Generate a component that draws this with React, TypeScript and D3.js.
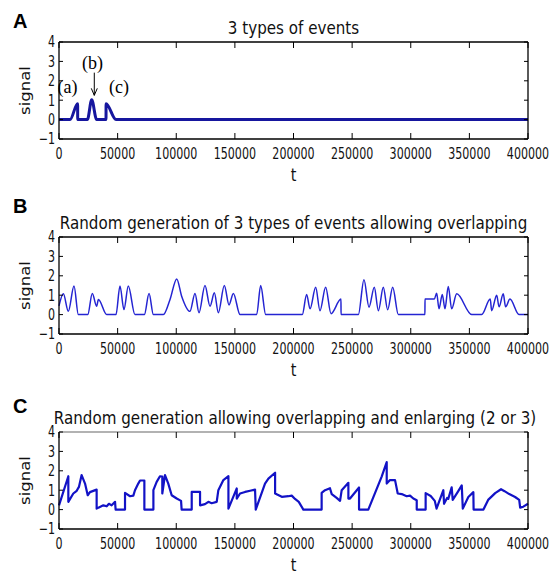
import React from 'react';
import * as d3 from 'd3';

const W = 552;
const H = 575;

const xTicks = [0, 50000, 100000, 150000, 200000, 250000, 300000, 350000, 400000];
const yTicks = [-1, 0, 1, 2, 3, 4];
const letters = ['A', 'B', 'C'];
const titles = [
  '3 types of events',
  'Random generation of 3 types of events allowing overlapping',
  'Random generation allowing overlapping and enlarging (2 or 3)',
];

// [t, signal]
const signalA: [number, number][] = [
  [0, 0], [9400, 0], [15900, 0.82], [15900, 0], [24200, 0], [27900, 1.02], [32100, 0],
  [40100, 0], [40100, 0.82], [48600, 0], [400000, 0],
];

const signalB: [number, number][] = [
  [0, 0.45], [3700, 1.07], [7960, 0.17], [12800, 1.47], [16500, 0], [24500, 0], [28400, 1.09],
  [32100, 0.43], [33600, 0.78], [40700, 0], [48600, 0], [52000, 1.47], [55400, 0.26], [59100, 1.47],
  [64800, 0], [72800, 0], [76800, 1.09], [80500, 0], [89000, 0], [94700, 0.78], [100400, 1.84],
  [104600, 0.95], [111700, 0.17], [116000, 1.09], [119400, 0.1], [124500, 1.5], [128800, 0.43],
  [132500, 1.12], [135900, 0.1], [141000, 1.5], [145000, 0.5], [148700, 1.09], [154400, 0],
  [168600, 0], [172000, 1.5], [176300, 0], [207500, 0], [211200, 1.03], [214100, 0.3],
  [218900, 1.41], [222600, 0.2], [227400, 1.41], [232000, 0.05], [240500, 0.8], [240500, 0],
  [255300, 0], [260100, 1.8], [264400, 0.38], [268900, 1.41], [272400, 0.2], [276600, 1.41],
  [280300, 0.25], [284600, 1.41], [289400, 0], [312100, 0], [312100, 0.8], [320100, 0.8],
  [322100, 1.1], [324100, 0.3], [326900, 1.03], [329200, 0.3], [332000, 1.45], [334900, 0.3],
  [339200, 1.07], [352000, 0], [360500, 0], [367800, 0.8], [369000, 0.2], [373300, 1.0],
  [375300, 0.4], [378900, 1.07], [380900, 0.4], [384600, 0.8], [392300, 0], [400000, 0],
];

const signalC: [number, number][] = [
  [0, 0.22], [7960, 1.72], [7960, 0.4], [12200, 0.83], [15100, 0.97], [17000, 1.17], [19300, 1.78],
  [22200, 1.34], [24500, 0.74], [26400, 0.9], [32100, 1.03], [32100, 0.05], [33600, 0.1],
  [37800, 0.22], [40700, 0.17], [42600, 0.3], [44900, 0.22], [47800, 0.4], [48300, 0], [56300, 0],
  [56300, 0.86], [60600, 0.69], [63400, 0.72], [64800, 1.0], [67600, 1.34], [69100, 1.5],
  [72800, 1.5], [72800, 0], [80500, 0], [80500, 1.0], [83300, 1.43], [86100, 1.72], [88100, 1.7],
  [88100, 0.83], [90400, 1.78], [93200, 1.34], [96100, 0.74], [100400, 0.57], [104100, 0.45],
  [104600, 0], [113200, 0], [113200, 0.91], [120300, 0.91], [120300, 0.22], [124500, 0.28],
  [127400, 0.4], [130200, 0.33], [134500, 0.4], [135900, 1.0], [140200, 1.52], [144500, 1.72],
  [144500, 0.05], [151600, 1.09], [151600, 0.57], [154400, 0.83], [158700, 0.91], [163000, 0.97],
  [167200, 1.03], [167800, 0], [175700, 1.34], [178600, 1.6], [184300, 1.9], [184300, 0.83],
  [190000, 0.66], [195600, 0.69], [198500, 0.72], [201300, 0.55], [204500, 0.4], [208400, 0],
  [224000, 0], [224000, 0.86], [226900, 1.0], [231100, 1.1], [232600, 0.8], [236800, 0.6],
  [239700, 0.45], [241100, 1.0], [246800, 1.38], [246800, 0.57], [248200, 0.57], [255900, 1.14],
  [255900, 0], [263800, 0], [275200, 1.7], [279500, 2.45], [279500, 1.34], [282300, 1.52],
  [286600, 1.52], [288900, 0.83], [292300, 0.8], [296500, 0.69], [299400, 0.72], [302200, 0.57],
  [305100, 0.48], [305100, 0], [312700, 0], [312700, 0.85], [317000, 0.7], [320500, 0.45],
  [322000, 0.05], [327800, 1.0], [328400, 0.3], [331000, 0.6], [332000, 0.55], [334900, 1.15],
  [335800, 0.5], [340000, 0.9], [343500, 1.25], [344400, 0.05], [349100, 0.65], [353400, 0.9],
  [353600, 0], [362000, 0], [366000, 0.5], [372000, 0.85], [377000, 1.05], [380000, 0.95],
  [384000, 0.8], [389000, 0.65], [392500, 0.5], [393300, 0.1], [396000, 0.15], [400000, 0.3],
];

const annotations = [
  { label: '(a)', t: 7250, v: 1.35 },
  { label: '(b)', t: 28600, v: 2.6 },
  { label: '(c)', t: 51200, v: 1.35 },
];
const arrowB = { t: 30100, from: 2.42, to: 1.25 };

const panels = [
  { top: 42, letterY: 28, data: signalA, color: '#16169e', width: 3, smooth: true, topEdge: '#000' },
  { top: 237, letterY: 213, data: signalB, color: '#2424d2', width: 1.5, smooth: true, topEdge: '#000' },
  { top: 432, letterY: 413, data: signalC, color: '#1212c6', width: 2.2, smooth: false, topEdge: '#999' },
];

const left = 59;
const right = 528;
const plotH = 97;
const FONT = 'DejaVu Sans';

// nudge repeated t values so the monotone curve can draw vertical jumps
const nudge = (d: [number, number][]) =>
  d.map((p, i) => (i > 0 && p[0] === d[i - 1][0] ? [p[0] + 40, p[1]] : p) as [number, number]);

const Squeezed = ({ x, y, anchor = 'middle', size = 15, sx = 0.74, rotate = false, dy, children }: any) => (
  <text
    transform={`translate(${x},${y}) scale(${sx},1)${rotate ? ' rotate(-90)' : ''}`}
    textAnchor={anchor}
    fontSize={size}
    fontFamily={FONT}
    dy={dy}
    fill="#111"
  >
    {children}
  </text>
);

const Panel = ({ p, i }: any) => {
  const bottom = p.top + plotH;
  const x = d3.scaleLinear().domain([0, 400000]).range([left, right]);
  const y = d3.scaleLinear().domain([-1, 4]).range([bottom, p.top]);
  const line = d3
    .line<[number, number]>()
    .x((d) => x(d[0]))
    .y((d) => y(d[1]))
    .curve(p.smooth ? d3.curveMonotoneX : d3.curveLinear);
  const pts = p.smooth ? nudge(p.data) : p.data;

  return (
    <g>
      <text x={13} y={p.letterY} fontFamily="Liberation Sans, Arial" fontWeight="bold" fontSize={20} fill="#000">
        {letters[i]}
      </text>
      <Squeezed x={(left + right) / 2 + (i === 2 ? 1.5 : 0)} y={p.top - 8} size={17.5} sx={0.865}>
        {titles[i]}
      </Squeezed>

      <path d={line(pts) || ''} fill="none" stroke={p.color} strokeWidth={p.width} strokeLinejoin="round" />

      {/* frame */}
      <line x1={left} x2={right} y1={p.top} y2={p.top} stroke={p.topEdge} strokeWidth={1.3} />
      <line x1={left} x2={right} y1={bottom} y2={bottom} stroke="#000" strokeWidth={1.3} />
      <line x1={left} x2={left} y1={p.top} y2={bottom} stroke="#000" strokeWidth={1.3} />
      <line x1={right} x2={right} y1={p.top} y2={bottom} stroke="#000" strokeWidth={1.3} />

      {xTicks.map((t) => (
        <g key={t}>
          <line x1={x(t)} x2={x(t)} y1={bottom} y2={bottom - 6} stroke="#000" />
          <line x1={x(t)} x2={x(t)} y1={p.top} y2={p.top + 6} stroke="#000" />
          <Squeezed x={x(t)} y={bottom + 20}>{t}</Squeezed>
        </g>
      ))}
      {yTicks.map((v) => (
        <g key={v}>
          <line x1={left} x2={left + 4} y1={y(v)} y2={y(v)} stroke="#000" />
          <line x1={right} x2={right - 4} y1={y(v)} y2={y(v)} stroke="#000" />
          <Squeezed x={left - 4} y={y(v)} anchor="end" dy="0.36em">
            {v < 0 ? `\u2212${-v}` : v}
          </Squeezed>
        </g>
      ))}

      <Squeezed x={25} y={(p.top + bottom) / 2} size={16.5} sx={0.8} rotate dy="0.35em">signal</Squeezed>
      <Squeezed x={(left + right) / 2} y={bottom + 42} size={18} sx={0.8}>t</Squeezed>

      {i === 0 && (
        <g>
          {annotations.map((a) => (
            <text key={a.label} x={x(a.t)} y={y(a.v)} textAnchor="middle" fontFamily="Liberation Serif, Times New Roman" fontSize={18} fill="#000">
              {a.label}
            </text>
          ))}
          <line x1={x(arrowB.t)} x2={x(arrowB.t)} y1={y(arrowB.from)} y2={y(arrowB.to)} stroke="#000" strokeWidth={1} />
          <path
            d={`M${x(arrowB.t) - 3},${y(arrowB.to) - 7}L${x(arrowB.t)},${y(arrowB.to)}L${x(arrowB.t) + 3},${y(arrowB.to) - 7}`}
            fill="none"
            stroke="#000"
            strokeWidth={1}
          />
        </g>
      )}
    </g>
  );
};

export default function App() {
  return (
    <svg width={W} height={H} style={{ position: 'absolute', left: 0, top: 0, background: '#fff' }}>
      <rect width={W} height={H} fill="#fff" />
      {panels.map((p, i) => (
        <Panel key={i} p={p} i={i} />
      ))}
    </svg>
  );
}
